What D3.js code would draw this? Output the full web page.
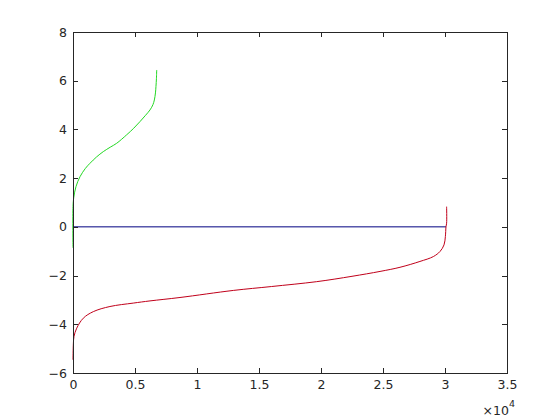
<!DOCTYPE html>
<html>
<head>
<meta charset="utf-8">
<script src="https://cdn.jsdelivr.net/npm/d3@7"></script>
<style>
  body { margin: 0; background: #fff; }
  svg text { font-family: "DejaVu Sans", sans-serif; font-size: 12.5px; fill: #262626; }
</style>
</head>
<body>
<script>
// sorted values
const greenX = [0, 0, 60, 240, 565, 1000, 1370, 1900, 2445, 3000, 3520, 4330, 4900, 5400, 5850, 6210, 6450, 6560, 6650, 6690, 6730, 6750]
const greenY = [-0.86, 0.83, 1.2, 1.65, 2.06, 2.4, 2.61, 2.87, 3.09, 3.27, 3.43, 3.78, 4.05, 4.32, 4.58, 4.80, 5.02, 5.21, 5.5, 5.76, 6.1, 6.44]

const redX = [0, 30, 80, 300, 830, 1640, 2980, 4860, 6210, 8630, 12930, 16000, 19650, 22500, 24760, 26370, 27980, 29060, 29600, 29920, 30030, 30080, 30130, 30130]
const redY = [-5.46, -4.8, -4.5, -4.16, -3.75, -3.48, -3.27, -3.13, -3.04, -2.90, -2.61, -2.45, -2.25, -2.03, -1.83, -1.66, -1.42, -1.22, -1.01, -0.74, -0.40, 0, 0.15, 0.83]

const blueX = [0, 30080]
const blueY = [0, 0]

const xTicks = [0, 0.5, 1, 1.5, 2, 2.5, 3, 3.5]
const yTicks = [-6, -4, -2, 0, 2, 4, 6, 8]

const margin = {top: 32, right: 53, bottom: 47, left: 73}
const width = 560 - margin.left - margin.right
const height = 420 - margin.top - margin.bottom

const x = d3.scaleLinear().domain([0, 35000]).range([0, width])
const y = d3.scaleLinear().domain([-6, 8]).range([height, 0])

const svg = d3.select('body').append('svg')
    .attr('width', 560)
    .attr('height', 420)
  .append('g')
    .attr('transform', 'translate(' + margin.left + ',' + margin.top + ')')

const line = d3.line()
  .x(d => x(d[0]))
  .y(d => y(d[1]))
  .curve(d3.curveCatmullRom)

const series = [
  {xs: blueX, ys: blueY, color: '#000080'},
  {xs: greenX, ys: greenY, color: '#22d822'},
  {xs: redX, ys: redY, color: '#c0001a'}
]

series.forEach(s => {
  svg.append('path')
    .datum(s.xs.map((v, i) => [v, s.ys[i]]))
    .attr('d', line)
    .attr('fill', 'none')
    .attr('stroke', s.color)
    .attr('stroke-width', 1)
})

// box with mirrored inward ticks
const axisColor = '#262626'
const tick = 5

const xAxis = d3.axisBottom(x).tickValues(xTicks.map(t => t * 1e4))
  .tickFormat((d, i) => String(xTicks[i])).tickSizeInner(-tick).tickSizeOuter(0).tickPadding(7)
const xTop = d3.axisTop(x).tickValues(xTicks.map(t => t * 1e4))
  .tickFormat('').tickSizeInner(-tick).tickSizeOuter(0)
const yAxis = d3.axisLeft(y).tickValues(yTicks)
  .tickSizeInner(-tick).tickSizeOuter(0).tickPadding(6)
const yRight = d3.axisRight(y).tickValues(yTicks)
  .tickFormat('').tickSizeInner(-tick).tickSizeOuter(0)

const gx = svg.append('g').attr('transform', 'translate(0,' + height + ')').call(xAxis)
const gt = svg.append('g').call(xTop)
const gy = svg.append('g').call(yAxis)
const gr = svg.append('g').attr('transform', 'translate(' + width + ',0)').call(yRight)

;[gx, gt, gy, gr].forEach(g => {
  g.selectAll('path, line').attr('stroke', axisColor).attr('shape-rendering', 'crispEdges')
  g.selectAll('text').attr('fill', axisColor).style('font-size', '12.5px').attr('font-family', null)
})

// exponent label
const expo = svg.append('text')
  .attr('x', width + 8)
  .attr('y', height + 42)
  .attr('text-anchor', 'end')
expo.append('tspan').text('\u00d710')
expo.append('tspan').attr('dy', -8).style('font-size', '9.5px').text('4')
</script>
</body>
</html>
